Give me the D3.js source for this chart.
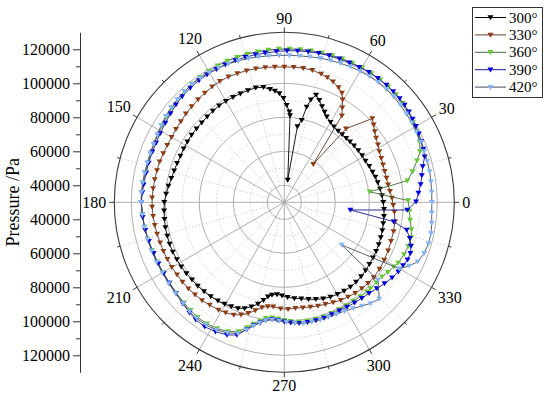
<!DOCTYPE html>
<html lang="en">
<head>
<meta charset="UTF-8">
<title>Pressure polar</title>
<style>
  body { margin: 0; background: #fff; }
  svg { display: block; }
  text { font-family: "Liberation Serif", "Times New Roman", serif; fill: #000; }
</style>
</head>
<body>
<svg width="550" height="398"></svg>
<script src="https://cdn.jsdelivr.net/npm/d3@7/dist/d3.min.js"></script>
<script>
// [angle in degrees, pressure in Pa], in drawing order
const s300 = [[86.2,81200],[81.3,43300],[80.2,75300],[78,79400],[76.8,87600],[75.5,92400],[73.5,95900],[71.1,93500],[68.5,90600],[66,88200],[63.6,86200],[60,84400],[56.7,83200],[53,82600],[49.5,82400],[46,82400],[42.7,82600],[39,82800],[35,83100],[31,83400],[27,83600],[23,84300],[19,84900],[15.5,85600],[12,86200],[8,86900],[4,87600],[0,88200],[356,88800],[352,89200],[348,89500],[344,90000],[340,90400],[336,90800],[332,91200],[328,91500],[324,91900],[320,92400],[316,92800],[312,93100],[308,93200],[304,92900],[300,92500],[296,91900],[292,91200],[288,90000],[284,88800],[280,87600],[276,86800],[272,85900],[268.6,84900],[265.5,84300],[262.4,85000],[260.2,86400],[258,88800],[255.5,91800],[252.5,94400],[249.5,96600],[246.4,98100],[243,98800],[239.6,99400],[236,99900],[232,100300],[228,100600],[224,100800],[220,100900],[216,101200],[212,101500],[208,101600],[204,101800],[200,101800],[196,101600],[192,101500],[188,101200],[184,100900],[180,100600],[176,99700],[172,98800],[168,97900],[164,97400],[160,97100],[156,96900],[152,97100],[148,97200],[144,97400],[140,97400],[136,97500],[132,97800],[128,98200],[124,98600],[120,98700],[116,98800],[112,98900],[108,99200],[104,99400],[100.3,98800],[97.2,97000],[94.8,95700],[92.6,94100],[90.5,91200],[88.6,87200],[86.8,83400]];
const s330 = [[56.4,91200],[52.8,58200],[50,86500],[43.6,101500],[41,99600],[38.1,97600],[35,95900],[31.6,94700],[28.2,93400],[24.5,92700],[20.8,92100],[17.2,91800],[13.4,91800],[9.6,91900],[6,92500],[2.3,93400],[358.5,94100],[355,95000],[350,96100],[345,96500],[340,96800],[335,97400],[330,97900],[325,98400],[320,98700],[316,98500],[312,98200],[308,97800],[304,97100],[300,96500],[296,95600],[292,94700],[288,94100],[284,93500],[280,92900],[276,92600],[272,92900],[268,92600],[264,91800],[261,92100],[258,93200],[255,95900],[252,98600],[249,100900],[245.8,102600],[242,103500],[238.6,104200],[234,104700],[230,105300],[226,105600],[222,105900],[218,106000],[214,106100],[210,106400],[206,106500],[202,106700],[198,106800],[194,107100],[190,107400],[186,107600],[182,107800],[178,107800],[174,107600],[170,107400],[166,107200],[162,107100],[158,106800],[154,106600],[150,106600],[146,106900],[142,107200],[138,107900],[134,108400],[130,108900],[126,109500],[122,110100],[118,110700],[114,110800],[110,110700],[106,110600],[102,110400],[98,110100],[94,109800],[90,109600],[86,109700],[82,109700],[78,109400],[74,108600],[71,107600],[68,106500],[64.7,104700],[62.2,102700],[60.4,99400],[58.5,95300]];
const s360 = [[10,103500],[7,80600],[0.8,102900],[356,103800],[352,104700],[348,106500],[344.5,107400],[340.5,107400],[336.5,106800],[332,105900],[329.5,104700],[326,103500],[322.7,102200],[319,101800],[315,101600],[312.8,101600],[309,101200],[305,100900],[301,100800],[297,100700],[293,100900],[289,101100],[285,101200],[281,101100],[277,100800],[273,100000],[270,99400],[267,98500],[264,98200],[261,99100],[258.5,101200],[256,103800],[253.5,106800],[250.5,110600],[246.5,112900],[242,114100],[237.5,114700],[233,114700],[229,114100],[225,113500],[220,112900],[215,112600],[210,112500],[205,112600],[200,112900],[195,113200],[190,113500],[185,113800],[180,114100],[176,114100],[172,113800],[168,113600],[164,113500],[160,113600],[156,113900],[152,114300],[148,114900],[144,115600],[140,116500],[136,117200],[132,117800],[128,118400],[124,118800],[120,119100],[116,119400],[112,119600],[108,119800],[104,119900],[100,120000],[96,120100],[92,120200],[88,120300],[84,120400],[80,120600],[76,120700],[72,120900],[68,121100],[64,121200],[60,121400],[56,121500],[52,121600],[48,121500],[44,121300],[40,120800],[36,120100],[32,119200],[28,118200],[24,117100],[20.5,115300],[17.4,111800],[13.5,107600]];
const s390 = [[356.4,102500],[353.4,69100],[350,95300],[347.3,103800],[344,106800],[341,108800],[338,110000],[335,110000],[332,109100],[328.7,108500],[325,107400],[321,105900],[317,104400],[313,103200],[309,102500],[305,102100],[301,101800],[297,101500],[293,101600],[289,101900],[285,102000],[281,101900],[277,101700],[273,100900],[270,100200],[267,99400],[264,99200],[261,100300],[258.7,102200],[256,104700],[253.6,107900],[250.4,112900],[246.6,115000],[242,116200],[237.4,116900],[233,116500],[229.3,115600],[225,114400],[220,113200],[215,112600],[210.5,112400],[206,112400],[201.3,112500],[196,112900],[191.3,113400],[186,113800],[180,114100],[176,113700],[172.9,113400],[168,113100],[163.8,113100],[159,113100],[155.2,113100],[151,113500],[146.3,114100],[142,114900],[138,115800],[134,116500],[129.4,117100],[125,117500],[121.2,117800],[117,117900],[113.2,118100],[109,118200],[105,118400],[101,118500],[97.3,118500],[93,118800],[89,119200],[85,119400],[81,119700],[77,120000],[73,120300],[69,120500],[65,120600],[61,120900],[57,121300],[53,121400],[49,121500],[45.5,121400],[42,121300],[39,121000],[36,120600],[33,120000],[30,119400],[27,118800],[24,118200],[21,117600],[18,116800],[14.5,114100],[11,112400],[7.5,110900],[4,109100],[0.3,107500]];
const s420 = [[330,108200],[323.4,72100],[320.3,101600],[314.5,109700],[310.5,108200],[306.8,106200],[303,104400],[299,103200],[295,102600],[291,102400],[287,102400],[283,102200],[279,102100],[275,101500],[271,100600],[267.5,99700],[264,99400],[261,100300],[258.5,102400],[256,105000],[253.5,108200],[250.5,111800],[246.5,113800],[242,115000],[237.5,115600],[233,115600],[229,115000],[225,114100],[220,113500],[215,113100],[210,112900],[205,112900],[200,113100],[195,113300],[190,113600],[185,113900],[180,114200],[176,114300],[172,114100],[168,114000],[164,113900],[160,114000],[156,114200],[152,114700],[148,115400],[144,116200],[140,116900],[136,117400],[132,117800],[128,118100],[124,118200],[120,118200],[116,118000],[112,117800],[108,117500],[104,117200],[100,116900],[96,116600],[92,116500],[88,116500],[84,116600],[80,116900],[76,117400],[72,117800],[68,118200],[64,118700],[60,119100],[56,119400],[52,119600],[48,119600],[44,119400],[40,119100],[36,118700],[32,118400],[28,118000],[24,117800],[20,117600],[16,117500],[12,117400],[8,117100],[4,116900],[0,116800],[356,116900],[352,117600],[348,118200],[344,118200],[340,117600],[336,115900],[333,112400]];

const seriesData = [s300, s330, s360, s390, s420];
const seriesNames = ['300°', '330°', '360°', '390°', '420°'];
const markerColors = ['#000000', '#8e3c16', '#66c832', '#0000dc', '#86b4f4'];
const lineColors = ['#000000', '#5e3a2c', '#4a6a3c', '#1c1c8c', '#44505e'];

const radialMajor = [40000, 60000, 80000, 100000, 120000];
const radialMinor = [50000, 70000, 90000, 110000];
const angleMajor = d3.range(0, 360, 30);
const angleMinor = d3.range(15, 360, 30);

var svg = d3.select('svg');
var cx = 284.3, cy = 202.3, R = 170;
var rScale = d3.scaleLinear().domain([30000, 130000]).range([0, R]);
var ang = function (deg) { return (90 - deg) * Math.PI / 180; };  // 0 at right, counter-clockwise

svg.append('rect').attr('width', 550).attr('height', 398).attr('fill', '#fff');
var g = svg.append('g').attr('transform', `translate(${cx}, ${cy})`);

// grid circles
g.selectAll('.cmin').data(radialMinor).enter().append('circle')
  .attr('r', d => rScale(d)).attr('fill', 'none')
  .attr('stroke', '#c4c4c4').attr('stroke-width', 0.8).attr('stroke-dasharray', '1.5,2');
g.selectAll('.cmaj').data(radialMajor).enter().append('circle')
  .attr('r', d => rScale(d)).attr('fill', 'none')
  .attr('stroke', '#a6a6a6').attr('stroke-width', 0.9);

// spokes
g.selectAll('.smin').data(angleMinor).enter().append('line')
  .attr('x1', d => d3.pointRadial(ang(d), rScale(40000))[0])
  .attr('y1', d => d3.pointRadial(ang(d), rScale(40000))[1])
  .attr('x2', d => d3.pointRadial(ang(d), R)[0])
  .attr('y2', d => d3.pointRadial(ang(d), R)[1])
  .attr('stroke', '#c4c4c4').attr('stroke-width', 0.8).attr('stroke-dasharray', '1.5,2');
g.selectAll('.smaj').data(angleMajor).enter().append('line')
  .attr('x1', 0).attr('y1', 0)
  .attr('x2', d => d3.pointRadial(ang(d), R)[0])
  .attr('y2', d => d3.pointRadial(ang(d), R)[1])
  .attr('stroke', '#a6a6a6').attr('stroke-width', 0.9);

// outer ring and its ticks
g.append('circle').attr('r', R).attr('fill', 'none').attr('stroke', '#3a3a3a').attr('stroke-width', 1.1);
g.selectAll('.tmaj').data(angleMajor.concat(angleMinor)).enter().append('line')
  .attr('x1', d => d3.pointRadial(ang(d), R)[0])
  .attr('y1', d => d3.pointRadial(ang(d), R)[1])
  .attr('x2', d => d3.pointRadial(ang(d), R + (d % 30 ? 3 : 5))[0])
  .attr('y2', d => d3.pointRadial(ang(d), R + (d % 30 ? 3 : 5))[1])
  .attr('stroke', '#3a3a3a').attr('stroke-width', 1);

// angle labels
g.selectAll('.alab').data(angleMajor).enter().append('text')
  .attr('text-anchor', 'middle').attr('dominant-baseline', 'central')
  .attr('font-size', 16)
  .attr('x', function (d) {
    var w = String(d).length * 8, a = d * Math.PI / 180;
    var rr = 178 + Math.abs(Math.cos(a)) * w / 2 + Math.abs(Math.sin(a)) * 5.5;
    return d3.pointRadial(ang(d), rr)[0];
  })
  .attr('y', function (d) {
    var w = String(d).length * 8, a = d * Math.PI / 180;
    var rr = 178 + Math.abs(Math.cos(a)) * w / 2 + Math.abs(Math.sin(a)) * 5.5;
    return d3.pointRadial(ang(d), rr)[1];
  })
  .text(d => d);

// series
var line = d3.lineRadial().angle(d => ang(d[0])).radius(d => rScale(d[1]));
var tri = 'M-3,-2.2L3,-2.2L0,2.8Z';
seriesData.forEach(function (data, i) {
  g.append('path').datum(data.concat([data[0]]))
    .attr('d', line).attr('fill', 'none')
    .attr('stroke', lineColors[i]).attr('stroke-width', 0.9);
  g.append('g').selectAll('path').data(data).enter().append('path')
    .attr('d', tri)
    .attr('transform', function (d) {
      var p = d3.pointRadial(ang(d[0]), rScale(d[1]));
      return `translate(${p[0]}, ${p[1]})`;
    })
    .attr('fill', markerColors[i]);
});

// left radial axis (mirrored both ways from the centre)
var yUp = d3.scaleLinear().domain([30000, 130000]).range([cy, cy - R]);
var yDown = d3.scaleLinear().domain([30000, 130000]).range([cy, cy + R]);
var axisX = 80;
[yUp, yDown].forEach(function (sc) {
  var ga = svg.append('g').attr('transform', `translate(${axisX}, 0)`)
    .call(d3.axisLeft(sc).tickValues(radialMajor).tickSize(7).tickSizeOuter(0).tickPadding(3).tickFormat(d3.format('d')));
  ga.selectAll('text').attr('font-family', '"Liberation Serif", serif').attr('font-size', 16).attr('fill', '#000');
  ga.select('.domain').attr('stroke', '#333');
  ga.selectAll('.tick line').attr('stroke', '#333');
  var gm = svg.append('g').attr('transform', `translate(${axisX}, 0)`)
    .call(d3.axisLeft(sc).tickValues(radialMinor).tickSize(4).tickSizeOuter(0).tickFormat(''));
  gm.select('.domain').remove();
  gm.selectAll('.tick line').attr('stroke', '#333');
});

svg.append('text')
  .attr('transform', `translate(19, ${cy}) rotate(-90)`)
  .attr('text-anchor', 'middle').attr('font-size', 18)
  .text('Pressure /Pa');

// legend
var leg = svg.append('g');
leg.append('rect').attr('x', 472.5).attr('y', 7.5).attr('width', 70).attr('height', 90)
  .attr('fill', '#fff').attr('stroke', '#333').attr('stroke-width', 1);
seriesNames.forEach(function (name, i) {
  var y = 17.5 + i * 17.4;
  leg.append('line').attr('x1', 475).attr('x2', 506).attr('y1', y).attr('y2', y)
    .attr('stroke', lineColors[i]).attr('stroke-width', 1);
  leg.append('path').attr('d', tri).attr('transform', `translate(490.5, ${y})`).attr('fill', markerColors[i]);
  leg.append('text').attr('x', 509).attr('y', y).attr('dominant-baseline', 'central')
    .attr('font-family', '"Liberation Sans", Arial, sans-serif').attr('font-size', 15)
    .text(name);
});
</script>
</body>
</html>
